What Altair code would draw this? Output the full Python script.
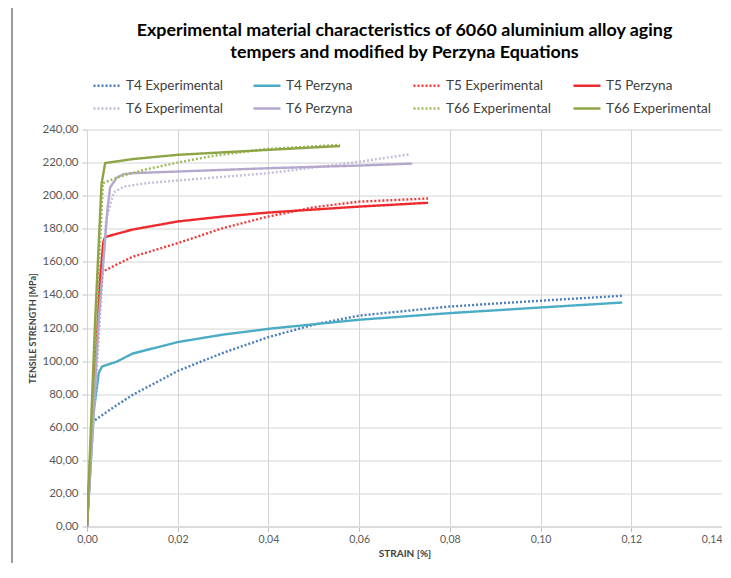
import altair as alt
import pandas as pd

# ---- data ----
t4_exp_strain = [0, 0.0011, 0.005, 0.01, 0.02, 0.03, 0.04, 0.05, 0.06, 0.08, 0.10, 0.118]
t4_exp_stress = [0, 63, 70.5, 79.5, 94, 105, 114.5, 122, 127.5, 133, 136.5, 139.5]

t4_per_strain = [0, 0.0015, 0.0026, 0.0033, 0.0066, 0.01, 0.02, 0.03, 0.04, 0.06, 0.08, 0.10, 0.118]
t4_per_stress = [0, 70, 93, 96.7, 99.7, 104.5, 111.5, 116, 119.5, 125, 129, 132.4, 135.4]

t5_exp_strain = [0, 0.0026, 0.01, 0.02, 0.03, 0.04, 0.05, 0.06, 0.0752]
t5_exp_stress = [0, 153, 163, 171.3, 180.4, 187.4, 193, 196.4, 198.3]

t5_per_strain = [0, 0.0029, 0.0036, 0.004, 0.01, 0.02, 0.03, 0.04, 0.06, 0.0752]
t5_per_stress = [0, 150, 172, 175, 179.5, 184.4, 187.4, 189.8, 193.4, 195.7]

t6_exp_strain = [0, 0.0042, 0.0059, 0.0081, 0.0132, 0.02, 0.04, 0.06, 0.0711]
t6_exp_stress = [0, 185, 202, 205.5, 207.6, 209.2, 213.6, 220.5, 225]

t6_per_strain = [0, 0.0026, 0.0045, 0.0051, 0.0066, 0.0081, 0.01, 0.02, 0.04, 0.06, 0.0717]
t6_per_stress = [0, 125, 191.5, 205, 211, 213, 213.6, 214.6, 216.6, 218.2, 219.4]

t66_exp_strain = [0, 0.0035, 0.0073, 0.0132, 0.02, 0.0279, 0.04, 0.0558]
t66_exp_stress = [0, 207.6, 211.6, 216, 220, 224.1, 228.3, 230.7]

t66_sol_strain = [0, 0.0018, 0.0032, 0.004, 0.01, 0.02, 0.04, 0.0558]
t66_sol_stress = [0, 125, 207, 219.7, 222.1, 224.7, 227.7, 230]

# legend fills column by column: this order gives the reference's two rows
series_names = ["T4 Experimental", "T6 Experimental", "T4 Perzyna", "T6 Perzyna",
                "T5 Experimental", "T66 Experimental", "T5 Perzyna", "T66 Experimental "]
series_colors = ["#4a7ebb", "#c6bddb", "#4bacc6", "#b4a8cc",
                 "#f03a3a", "#9bbb59", "#ee2a2e", "#8ea547"]
dotted = [True, True, False, False, True, True, False, False]

x_ticks = [0, 0.02, 0.04, 0.06, 0.08, 0.10, 0.12, 0.14]
y_ticks = [0, 20, 40, 60, 80, 100, 120, 140, 160, 180, 200, 220, 240]

all_series = {
    "T4 Experimental": (t4_exp_strain, t4_exp_stress),
    "T4 Perzyna": (t4_per_strain, t4_per_stress),
    "T5 Experimental": (t5_exp_strain, t5_exp_stress),
    "T5 Perzyna": (t5_per_strain, t5_per_stress),
    "T6 Experimental": (t6_exp_strain, t6_exp_stress),
    "T6 Perzyna": (t6_per_strain, t6_per_stress),
    "T66 Experimental": (t66_exp_strain, t66_exp_stress),
    "T66 Experimental ": (t66_sol_strain, t66_sol_stress),
}

rows = []
for name, (xs, ys) in all_series.items():
    for x, y in zip(xs, ys):
        rows.append({"series": name, "strain": x, "stress": y})
df = pd.DataFrame(rows)

dash_range = [[2, 2] if d else [1, 0] for d in dotted]

legend_common = dict(title=None, orient="none", legendX=5, legendY=-59, columns=4)

lines = alt.Chart(df).mark_line(strokeWidth=2.4, clip=True).encode(
    x=alt.X("strain:Q", scale=alt.Scale(domain=[0, 0.14], nice=False),
            axis=alt.Axis(values=x_ticks, title="STRAIN [%]",
                          labelExpr="replace(format(datum.value, '.2f'), '.', ',')",
                          labelAlign={"expr": "datum.value > 0.13 ? 'right' : 'center'"})),
    y=alt.Y("stress:Q", scale=alt.Scale(domain=[0, 240], nice=False),
            axis=alt.Axis(values=y_ticks, title="TENSILE STRENGTH [MPa]",
                          labelExpr="replace(format(datum.value, '.2f'), '.', ',')")),
    color=alt.Color("series:N", scale=alt.Scale(domain=series_names, range=series_colors),
                    legend=alt.Legend(gridAlign="all", columnPadding=17,
                                      rowPadding=1, symbolType="stroke", symbolSize=729,
                                      symbolStrokeWidth=2.4, labelFont="Lato",
                                      labelFontSize=13.5, labelColor="#404040",
                                      labelOffset=4, **legend_common)),
    strokeDash=alt.StrokeDash("series:N", scale=alt.Scale(domain=series_names, range=dash_range),
                              legend=alt.Legend(**legend_common)),
    detail="series:N",
    order="strain:Q",
)

frame_left = alt.Chart(df).mark_rule(color="#9a9a9a", strokeWidth=1).encode(
    x=alt.value(-75), y=alt.value(-121), y2=alt.value(433))

chart = alt.layer(frame_left, lines).properties(
    width=635, height=397,
    autosize=alt.AutoSizeParams(type="none"),
    padding={"left": 79, "top": 121.5, "right": 0, "bottom": 36},
    title=alt.TitleParams(
        text=["Experimental material characteristics of 6060 aluminium alloy aging",
              "tempers and modified by Perzyna Equations"],
        font="Lato", fontSize=17.9, fontWeight="bold", color="#000000",
        anchor="middle", lineHeight=22, offset=10, dy=64),
).configure_view(stroke=None).configure_axis(
    gridColor="#d4d4d4", gridWidth=1, domainColor="#d4d4d4", domainWidth=1,
    tickColor="#bfbfbf", tickSize=5, labelColor="#595959", labelFont="Lato",
    titleFont="Lato", titleColor="#404040", titleFontWeight="bold", titleFontSize=10,
).configure_axisY(labelFontSize=11.5, labelPadding=4, titlePadding=5, titleFontSize=9
).configure_axisX(labelFontSize=10.5, labelPadding=3, titlePadding=3, domainWidth=2,
                  domainColor="#dcdcdc")

chart.save("out.html", embed_options={"renderer": "svg", "actions": False})
